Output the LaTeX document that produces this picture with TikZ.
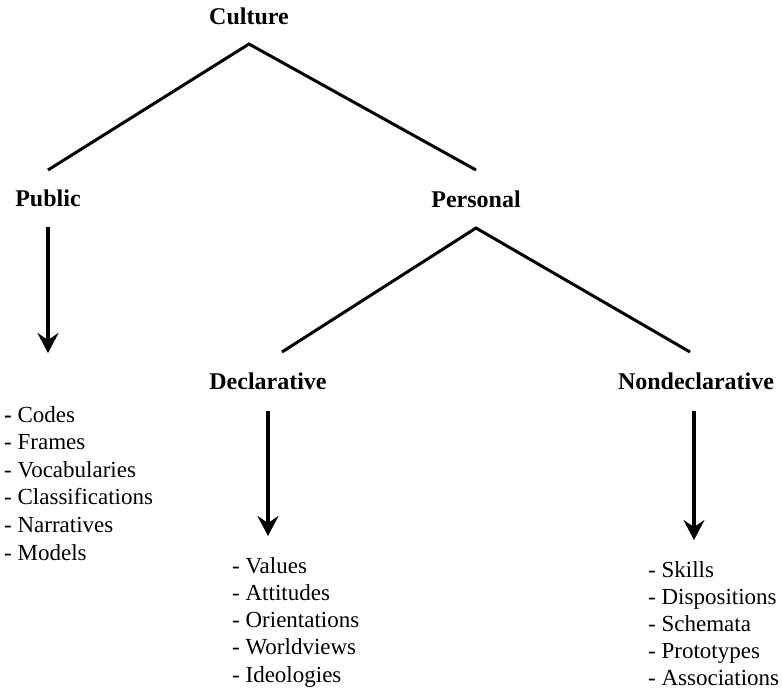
\documentclass[tikz,border=0pt]{standalone}
\usepackage{fontspec}
\setmainfont{Liberation Serif}
\usetikzlibrary{arrows.meta}

\tikzset{
  heading/.style={font=\fontsize{24}{28}\selectfont\bfseries, inner sep=0pt, anchor=base},
  entry/.style={font=\fontsize{23}{27}\selectfont, inner sep=0pt, anchor=base west},
  branch/.style={line width=3pt, line join=miter},
  down/.style={line width=3.2pt, -{Stealth[length=20pt,width=21pt,inset=7pt]}}
}

\begin{document}
\begin{tikzpicture}[x=1pt,y=-1pt]
  \useasboundingbox (0,0) rectangle (782,691);

  % headings
  \node[heading] (culture) at (249,24) {Culture};
  \node[heading] (public) at (48,206) {Public};
  \node[heading] (personal) at (476,207) {Personal};
  \node[heading] (declarative) at (268,389) {Declarative};
  \node[heading] (nondeclarative) at (696,389) {Nondeclarative};

  % forks
  \coordinate (culture-fork) at (249,44);
  \coordinate (public-end) at (48,170);
  \coordinate (personal-end) at (476,170);
  \draw[branch] (public-end) -- (culture-fork) -- (personal-end);

  \coordinate (personal-fork) at (476,228);
  \coordinate (declarative-end) at (282,352);
  \coordinate (nondeclarative-end) at (690,352);
  \draw[branch] (declarative-end) -- (personal-fork) -- (nondeclarative-end);

  % arrows down to the lists
  \coordinate (public-from) at (48,227);
  \coordinate (public-to) at (48,353);
  \coordinate (declarative-from) at (268,411);
  \coordinate (declarative-to) at (268,536);
  \coordinate (nondeclarative-from) at (694,411);
  \coordinate (nondeclarative-to) at (694,540);
  \draw[down] (public-from) -- (public-to);
  \draw[down] (declarative-from) -- (declarative-to);
  \draw[down] (nondeclarative-from) -- (nondeclarative-to);

  % lists
  \node[entry] (pub-1) at (4,422) {\textbf{-} Codes};
  \foreach \lbl [count=\i from 2] in {Frames,Vocabularies,Classifications,Narratives,Models}{
    \node[entry] (pub-\i) at (4,422+27.6*\i-27.6) {- \lbl};
  }
  \foreach \lbl [count=\i] in {Values,Attitudes,Orientations,Worldviews,Ideologies}{
    \node[entry] (dec-\i) at (232,573+27.25*\i-27.25) {- \lbl};
  }
  \foreach \lbl [count=\i] in {Skills,Dispositions,Schemata,Prototypes,Associations}{
    \node[entry] (nondec-\i) at (648,577+27*\i-27) {- \lbl};
  }
\end{tikzpicture}
\end{document}
